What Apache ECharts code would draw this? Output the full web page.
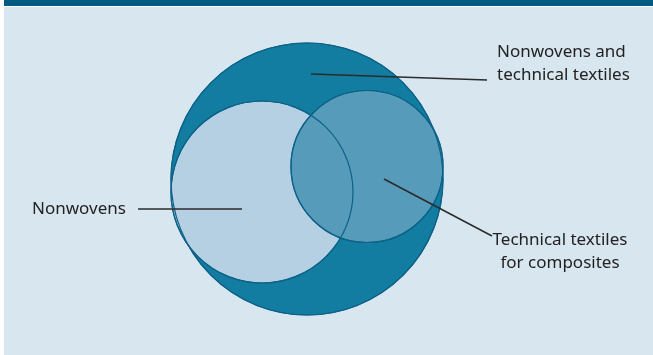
<!DOCTYPE html>
<html>
<head>
<meta charset="utf-8">
<script src="https://cdn.jsdelivr.net/npm/echarts@6/dist/echarts.min.js"></script>
<style>
  html, body { margin: 0; padding: 0; background: #fff; }
  #chart { width: 653px; height: 355px; }
</style>
</head>
<body>
<div id="chart"></div>
<script>
// circles: big (all), left (nonwovens), right (composites)
const circleNames = ['Nonwovens and technical textiles', 'Nonwovens', 'Technical textiles for composites'];
const circleX = [307, 262, 367];
const circleY = [179, 192, 166.5];
const circleR = [136, 91, 76];
const circleColors = ['#137ca1', '#b5d0e3', '#569bba'];

// labels
const labelText = ['Nonwovens and\ntechnical textiles', 'Nonwovens', 'Technical textiles\nfor composites'];
const labelX = [497, 32, 560];
const labelY = [64, 209, 252];
const labelAlign = ['left', 'left', 'center'];

// leader lines (start inside circle -> end near label)
const leadFromX = [311, 242, 384];
const leadFromY = [74, 209, 179];
const leadToX = [487, 138, 492];
const leadToY = [80, 209, 236];

const chart = echarts.init(document.getElementById('chart'));

const circleData = circleNames.map((n, i) => [circleX[i], circleY[i], circleR[i], i]);
const leadData = leadFromX.map((x, i) => [x, leadFromY[i], leadToX[i], leadToY[i]]);
const labelData = labelText.map((t, i) => [labelX[i], labelY[i], i]);

function circleShape(api) {
  const c = api.coord([api.value(0), api.value(1)]);
  const r = api.size([api.value(2), 0])[0];
  return { cx: c[0], cy: c[1], r: r };
}

const option = {
  animation: false,
  backgroundColor: '#ffffff',
  graphic: [
    { type: 'rect', shape: { x: 4, y: 0, width: 649, height: 6 }, style: { fill: '#005a82' }, z: -10 },
    { type: 'rect', shape: { x: 4, y: 7, width: 649, height: 348 }, style: { fill: '#d8e6ef' }, z: -10 }
  ],
  grid: { left: 0, right: 0, top: 0, bottom: 0 },
  xAxis: { type: 'value', min: 0, max: 653, show: false },
  yAxis: { type: 'value', min: 0, max: 355, inverse: true, show: false },
  series: [
    {
      // fills
      type: 'custom',
      data: circleData,
      z: 2,
      renderItem: (params, api) => {
        const i = api.value(3);
        return {
          type: 'circle',
          shape: circleShape(api),
          style: { fill: circleColors[i], stroke: '#0d6288', lineWidth: 1.2 }
        };
      }
    },
    {
      // outlines on top
      type: 'custom',
      data: circleData,
      z: 3,
      renderItem: (params, api) => ({
        type: 'circle',
        shape: circleShape(api),
        style: { fill: 'none', stroke: '#0d6288', lineWidth: 1.2 }
      })
    },
    {
      type: 'custom',
      data: leadData,
      z: 4,
      renderItem: (params, api) => {
        const a = api.coord([api.value(0), api.value(1)]);
        const b = api.coord([api.value(2), api.value(3)]);
        return {
          type: 'line',
          shape: { x1: a[0], y1: a[1], x2: b[0], y2: b[1] },
          style: { stroke: '#2b2b2b', lineWidth: 1.5 }
        };
      }
    },
    {
      type: 'custom',
      data: labelData,
      z: 5,
      renderItem: (params, api) => {
        const p = api.coord([api.value(0), api.value(1)]);
        const i = api.value(2);
        return {
          type: 'text',
          x: p[0],
          y: p[1],
          style: {
            text: labelText[i],
            fill: '#222222',
            font: '17px "Noto Sans", sans-serif',
            align: labelAlign[i],
            verticalAlign: 'middle',
            lineHeight: 23
          }
        };
      }
    }
  ]
};

chart.setOption(option);
</script>
</body>
</html>
